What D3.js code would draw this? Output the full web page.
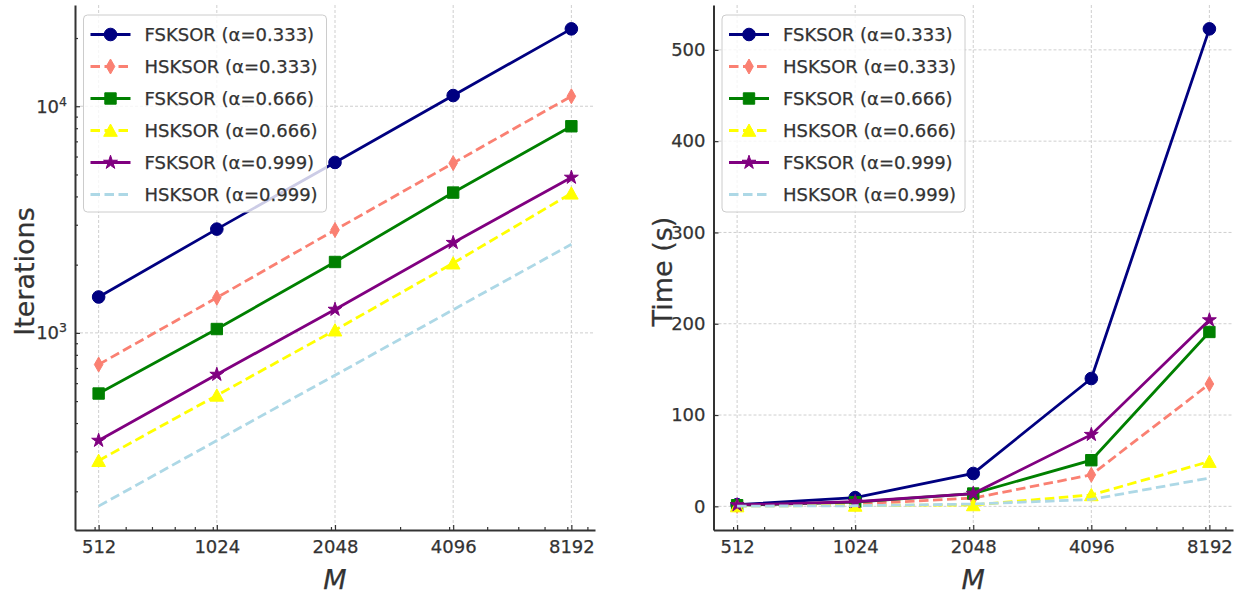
<!DOCTYPE html>
<html>
<head>
<meta charset="utf-8">
<script src="https://cdn.jsdelivr.net/npm/d3@7"></script>
<style>
  body { margin: 0; background: #fff; }
  svg text { font-family: "DejaVu Sans", sans-serif; fill: #333; stroke: #333; stroke-width: 0.25px; }
</style>
</head>
<body>
<svg id="chart"></svg>
<script>
// matrix sizes on the x axis
const mValues = [512, 1024, 2048, 4096, 8192];

const seriesNames = [
  'FSKSOR (α=0.333)', 'HSKSOR (α=0.333)',
  'FSKSOR (α=0.666)', 'HSKSOR (α=0.666)',
  'FSKSOR (α=0.999)', 'HSKSOR (α=0.999)'
];

// iterations (left panel, log y)
const iterF333 = [1440, 2870, 5650, 11150, 21950];
const iterH333 = [725, 1430, 2845, 5610, 11070];
const iterF666 = [540, 1040, 2055, 4160, 8160];
const iterH666 = [273, 530, 1028, 2030, 4130];
const iterF999 = [335, 655, 1268, 2500, 4850];
const iterH999 = [172, 335, 650, 1265, 2460];

// cpu time in seconds (right panel)
const timeF333 = [1.8, 9.5, 36, 140, 523];
const timeH333 = [0.5, 2.5, 9, 34.5, 134];
const timeF666 = [1.2, 4.5, 14, 50.5, 191];
const timeH666 = [0.3, 1.0, 1.5, 12.5, 49];
const timeF999 = [1.5, 5.0, 14, 78.5, 204];
const timeH999 = [0.2, 0.6, 2.5, 7.5, 31];

const timeTicks = [0, 100, 200, 300, 400, 500];

const styles = [
  {color: '#000080', dash: null, marker: 'circle'},
  {color: '#fa8072', dash: '9.5,4.5', marker: 'thindiamond'},
  {color: '#008000', dash: null, marker: 'square'},
  {color: '#ffff00', dash: '9.5,4.5', marker: 'triangle'},
  {color: '#800080', dash: null, marker: 'star'},
  {color: '#add8e6', dash: '9.5,4.5', marker: null}
];

const W = 1242, H = 594;
const svg = d3.select('#chart').attr('width', W).attr('height', H);

function markerPath(type) {
  if (type === 'circle') return d3.symbol(d3.symbolCircle, 125)();
  if (type === 'square') return d3.symbol(d3.symbolSquare, 130)();
  if (type === 'star') return d3.symbol(d3.symbolStar, 60)();
  if (type === 'thindiamond') return 'M0,-7.5L4.3,0L0,7.5L-4.3,0Z';
  if (type === 'triangle') return 'M0,-6.5L6.8,5.8L-6.8,5.8Z';
  return null;
}

function padLog(lo, hi, base) {
  const a = Math.log(lo) / Math.log(base), b = Math.log(hi) / Math.log(base);
  const m = (b - a) * 0.05;
  return [Math.pow(base, a - m), Math.pow(base, b + m)];
}

function drawPanel(p) {
  const g = svg.append('g');
  const x = d3.scaleLog().base(2)
    .domain(padLog(d3.min(mValues), d3.max(mValues), 2))
    .range([p.left, p.right]);

  const all = p.series.flat();
  let y;
  if (p.logY) {
    y = d3.scaleLog().domain(padLog(d3.min(all), d3.max(all), 10)).range([p.bottom, p.top]);
  } else {
    const lo = d3.min(all), hi = d3.max(all), m = (hi - lo) * 0.05;
    y = d3.scaleLinear().domain([lo - m, hi + m]).range([p.bottom, p.top]);
  }

  const yMajor = p.logY ? [1000, 10000] : timeTicks;
  const yMinor = p.logY ? y.ticks().filter(v => !yMajor.includes(v)) : [];
  const xMinor = x.copy().base(10).ticks();

  // grid
  g.append('g').selectAll('line').data(mValues).join('line')
    .attr('x1', d => x(d)).attr('x2', d => x(d))
    .attr('y1', p.top).attr('y2', p.bottom)
    .attr('stroke', '#cfcfcf').attr('stroke-width', 1).attr('stroke-dasharray', '3,2');
  g.append('g').selectAll('line').data(yMajor).join('line')
    .attr('x1', p.left).attr('x2', p.right)
    .attr('y1', d => y(d)).attr('y2', d => y(d))
    .attr('stroke', '#cfcfcf').attr('stroke-width', 1).attr('stroke-dasharray', '3,2');

  // lines + markers
  p.series.forEach((vals, i) => {
    const st = styles[i];
    const pts = vals.map((v, j) => [x(mValues[j]), y(v)]);
    g.append('path')
      .attr('d', d3.line()(pts))
      .attr('fill', 'none')
      .attr('stroke', st.color)
      .attr('stroke-width', 2.8)
      .attr('stroke-dasharray', st.dash);
    if (st.marker) {
      g.append('g').selectAll('path').data(pts).join('path')
        .attr('d', markerPath(st.marker))
        .attr('transform', d => `translate(${d[0]},${d[1]})`)
        .attr('fill', st.color)
        .attr('stroke', st.color).attr('stroke-width', 1);
    }
  });

  // axes
  g.append('g').attr('transform', `translate(0,${p.bottom})`)
    .call(d3.axisBottom(x).tickValues(mValues).tickFormat(d3.format('d'))
      .tickSize(-5).tickSizeOuter(0).tickPadding(10));
  g.append('g').attr('transform', `translate(0,${p.bottom})`)
    .call(d3.axisBottom(x).tickValues(xMinor).tickFormat('').tickSize(-3).tickSizeOuter(0))
    .select('.domain').remove();

  const yAx = d3.axisLeft(y).tickValues(yMajor).tickSize(-5).tickSizeOuter(0).tickPadding(8);
  if (p.logY) yAx.tickFormat('');
  const yAxis = g.append('g').attr('transform', `translate(${p.left},0)`).call(yAx);
  if (p.logY) {
    g.append('g').attr('transform', `translate(${p.left},0)`)
      .call(d3.axisLeft(y).tickValues(yMinor).tickFormat('').tickSize(-3).tickSizeOuter(0))
      .select('.domain').remove();
    yAxis.selectAll('.tick').append('text')
      .attr('x', -8).attr('dy', '0.32em').attr('text-anchor', 'end')
      .each(function(d) {
        const t = d3.select(this);
        t.append('tspan').text('10');
        t.append('tspan').attr('dy', '-0.55em').style('font-size', '12.5px')
          .text(Math.round(Math.log10(d)));
      });
  }

  svg.selectAll('.domain').attr('stroke', '#333').attr('stroke-width', 2);
  g.selectAll('.tick line').attr('stroke', '#333').attr('stroke-width', 1.2);
  g.selectAll('.tick text').style('font-size', '18px').attr('fill', '#333');

  // axis labels
  g.append('text')
    .attr('x', (p.left + p.right) / 2).attr('y', 589)
    .attr('text-anchor', 'middle')
    .style('font-size', '27px').style('font-style', 'italic')
    .text('M');
  g.append('text')
    .attr('transform', `translate(${p.yLabelX},${(p.top + p.bottom) / 2 + 4}) rotate(-90)`)
    .attr('text-anchor', 'middle').attr('dy', '0.35em')
    .style('font-size', '27px')
    .text(p.yLabel);

  // legend
  const lg = g.append('g').attr('transform', `translate(${p.left + 8.5},${p.top + 10})`);
  lg.append('rect')
    .attr('width', 243).attr('height', 197).attr('rx', 4)
    .attr('fill', '#fff').attr('fill-opacity', 0.8)
    .attr('stroke', '#cccccc').attr('stroke-width', 1);
  seriesNames.forEach((name, i) => {
    const st = styles[i];
    const ry = 19.5 + i * 32;
    lg.append('line')
      .attr('x1', 7).attr('x2', 47).attr('y1', ry).attr('y2', ry)
      .attr('stroke', st.color).attr('stroke-width', 2.8)
      .attr('stroke-dasharray', st.dash);
    if (st.marker) {
      lg.append('path').attr('d', markerPath(st.marker))
        .attr('transform', `translate(27,${ry})`)
        .attr('fill', st.color).attr('stroke', st.color).attr('stroke-width', 1);
    }
    lg.append('text')
      .attr('x', 61).attr('y', ry).attr('dy', '0.35em')
      .style('font-size', '18px')
      .text(name);
  });
}

drawPanel({
  left: 75, right: 595, top: 5, bottom: 530, logY: true,
  yLabel: 'Iterations', yLabelX: 25,
  series: [iterF333, iterH333, iterF666, iterH666, iterF999, iterH999]
});

drawPanel({
  left: 713.5, right: 1233, top: 5, bottom: 530, logY: false,
  yLabel: 'Time (s)', yLabelX: 663,
  series: [timeF333, timeH333, timeF666, timeH666, timeF999, timeH999]
});
</script>
</body>
</html>
